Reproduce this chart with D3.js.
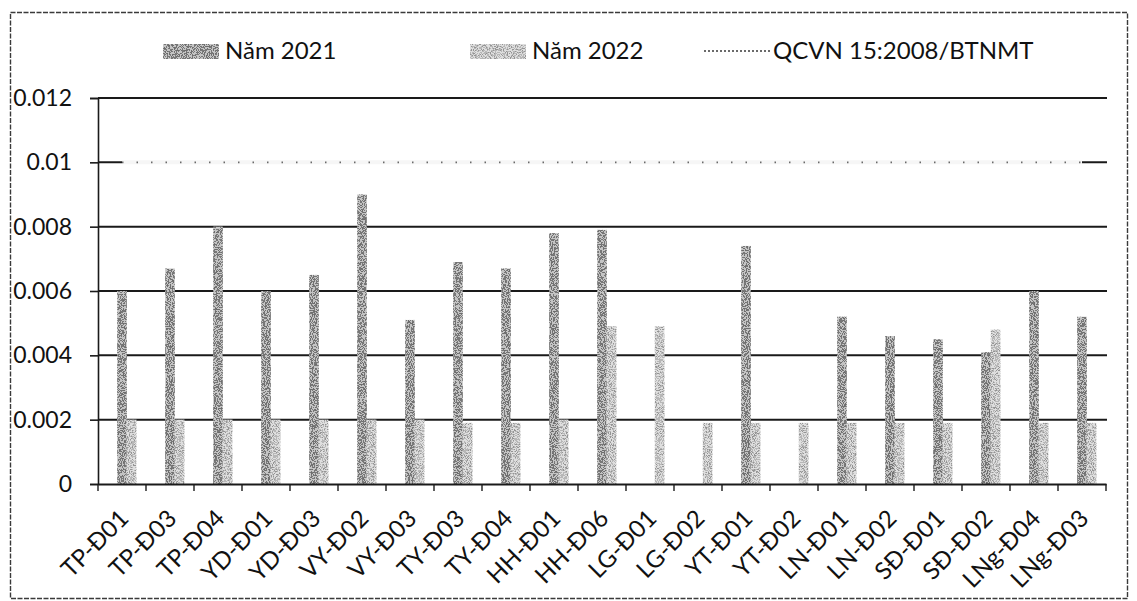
<!DOCTYPE html>
<html>
<head>
<meta charset="utf-8">
<script src="https://cdn.jsdelivr.net/npm/d3@7"></script>
<style>
  html, body { margin: 0; padding: 0; background: #fff; }
  svg { display: block; font-family: Lato, "Open Sans", sans-serif; }
</style>
</head>
<body>
<svg id="chart" width="1137" height="601"></svg>
<script>
// Monitoring stations
const categories = ["TP-Đ01","TP-Đ03","TP-Đ04","YD-Đ01","YD-Đ03","VY-Đ02","VY-Đ03","TY-Đ03","TY-Đ04","HH-Đ01","HH-Đ06","LG-Đ01","LG-Đ02","YT-Đ01","YT-Đ02","LN-Đ01","LN-Đ02","SĐ-Đ01","SĐ-Đ02","LNg-Đ04","LNg-Đ03"];

// Measured concentrations (null = no sample that year)
const values2021 = [0.0060,0.0067,0.0080,0.0060,0.0065,0.0090,0.0051,0.0069,0.0067,0.0078,0.0079,null,null,0.0074,null,0.0052,0.0046,0.0045,0.0041,0.0060,0.0052];
const values2022 = [0.0020,0.0020,0.0020,0.0020,0.0020,0.0020,0.0020,0.0019,0.0019,0.0020,0.0049,0.0049,0.0019,0.0019,0.0019,0.0019,0.0019,0.0019,0.0048,0.0019,0.0019];

// Regulatory limit QCVN 15:2008/BTNMT
const limitValues = [0.01,0.01,0.01,0.01,0.01,0.01,0.01,0.01,0.01,0.01,0.01,0.01,0.01,0.01,0.01,0.01,0.01,0.01,0.01,0.01,0.01];

const seriesNames = ["Năm 2021","Năm 2022"];
const limitName = "QCVN 15:2008/BTNMT";

const yTicks = [0,0.002,0.004,0.006,0.008,0.01,0.012];
const yTickLabels = ["0","0.002","0.004","0.006","0.008","0.01","0.012"];

const svg = d3.select("#chart");
const defs = svg.append("defs");

// Grainy print texture for the bars
function grain(id, ink, density, seed) {
  const f = defs.append("filter").attr("id", id)
    .attr("filterUnits", "userSpaceOnUse")
    .attr("x", 0).attr("y", 0).attr("width", 1137).attr("height", 601);
  f.append("feTurbulence").attr("type", "fractalNoise")
    .attr("baseFrequency", 0.95).attr("numOctaves", 2).attr("seed", seed).attr("result", "n");
  f.append("feColorMatrix").attr("in", "n").attr("type", "matrix")
    .attr("values", `0 0 0 0 ${ink}  0 0 0 0 ${ink}  0 0 0 0 ${ink}  1 0 0 0 0`).attr("result", "a");
  const ct = f.append("feComponentTransfer").attr("in", "a").attr("result", "d");
  ct.append("feFuncA").attr("type", "discrete").attr("tableValues", density);
  f.append("feComposite").attr("in", "d").attr("in2", "SourceAlpha").attr("operator", "in").attr("result", "dots");
  const m = f.append("feMerge");
  m.append("feMergeNode").attr("in", "SourceGraphic");
  m.append("feMergeNode").attr("in", "dots");
}
grain("grain2021", 0.15, "0 0 0 0 0.9 1 1 1", 3);
grain("grain2022", 0.3, "0 0 0 0 0.6 1 1 1", 7);

const fills = ["#c4c4c4", "#dedede"];
const filters = ["url(#grain2021)", "url(#grain2022)"];

// Outer frame
svg.append("rect")
  .attr("x", 10.5).attr("y", 12.5).attr("width", 1117).attr("height", 586)
  .attr("fill", "none").attr("stroke", "#3a3a3a").attr("stroke-width", 1.4)
  .attr("stroke-dasharray", "5,1.5");

const plot = { left: 98, right: 1106, top: 98, bottom: 484 };

const x = d3.scaleBand().domain(categories).range([plot.left, plot.right]);
const xs = d3.scaleBand().domain(seriesNames)
  .range([x.bandwidth() * 0.4, x.bandwidth() * 0.8]);
const y = d3.scaleLinear().domain([0, 0.012]).range([plot.bottom, plot.top]);

// Horizontal gridlines
svg.append("g").selectAll("line").data(yTicks.filter(d => d > 0)).join("line")
  .attr("x1", plot.left).attr("x2", plot.right + 1)
  .attr("y1", d => y(d)).attr("y2", d => y(d))
  .attr("stroke", "#1a1a1a").attr("stroke-width", 2);

// Bars
const seriesData = [values2021, values2022];
seriesData.forEach((vals, si) => {
  svg.append("g").attr("filter", filters[si])
    .selectAll("rect")
    .data(categories.map((c, i) => ({ c, v: vals[i] })).filter(d => d.v != null))
    .join("rect")
    .attr("x", d => x(d.c) + xs(seriesNames[si]))
    .attr("width", xs.bandwidth())
    .attr("y", d => y(d.v))
    .attr("height", d => y(0) - y(d.v))
    .attr("fill", fills[si]);
});

// Limit line
const limitLine = d3.line()
  .x((d, i) => x(categories[i]) + x.bandwidth() / 2)
  .y(d => y(d));
svg.append("path").datum(limitValues).attr("d", limitLine)
  .attr("fill", "none").attr("stroke", "#f6f6f6").attr("stroke-width", 4);
svg.append("path").datum(limitValues).attr("d", limitLine)
  .attr("fill", "none").attr("stroke", "#6a6a6a").attr("stroke-width", 1.6)
  .attr("stroke-dasharray", "1.5,13");

// Y axis
const yAxis = d3.axisLeft(y).tickValues(yTicks)
  .tickFormat((d, i) => yTickLabels[i]).tickSize(8).tickPadding(18);
const gy = svg.append("g").attr("transform", `translate(${plot.left},0)`).call(yAxis);
gy.select(".domain").attr("stroke", "#1a1a1a").attr("stroke-width", 1.6);
gy.selectAll(".tick line").attr("stroke", "#1a1a1a").attr("stroke-width", 1.6);
gy.selectAll(".tick text").attr("font-size", 23).attr("fill", "#111")
  .attr("font-family", "Lato, 'Open Sans', sans-serif");

// X axis
const xAxis = d3.axisBottom(x).tickSize(0).tickFormat("");
const gx = svg.append("g").attr("transform", `translate(0,${plot.bottom})`).call(xAxis);
gx.select(".domain").attr("stroke", "#1a1a1a").attr("stroke-width", 2);
gx.selectAll(".tick").remove();
// tick marks between categories
svg.append("g").selectAll("line")
  .data(categories.concat([null]))
  .join("line")
  .attr("x1", (d, i) => plot.left + i * x.step())
  .attr("x2", (d, i) => plot.left + i * x.step())
  .attr("y1", plot.bottom).attr("y2", plot.bottom + 7)
  .attr("stroke", "#1a1a1a").attr("stroke-width", 1.4);
// rotated labels
svg.append("g").selectAll("text").data(categories).join("text")
  .attr("transform", d => `translate(${x(d) + x.bandwidth() / 2 + 8},${plot.bottom + 36}) rotate(-45)`)
  .attr("text-anchor", "end")
  .attr("font-size", 24).attr("fill", "#111")
  .text(d => d);

// Legend
const legend = svg.append("g");
const legendItems = [
  { name: seriesNames[0], sx: 163, tx: 225, kind: 0 },
  { name: seriesNames[1], sx: 470, tx: 532, kind: 1 },
  { name: limitName, sx: 704, tx: 773, kind: 2 }
];
legendItems.forEach(it => {
  if (it.kind < 2) {
    legend.append("rect").attr("x", it.sx).attr("y", 44).attr("width", 56).attr("height", 15)
      .attr("fill", fills[it.kind]).attr("filter", filters[it.kind]);
  } else {
    legend.append("line").attr("x1", it.sx).attr("x2", it.sx + 66)
      .attr("y1", 51).attr("y2", 51)
      .attr("stroke", "#6a6a6a").attr("stroke-width", 2).attr("stroke-dasharray", "2,2");
  }
  legend.append("text").attr("x", it.tx).attr("y", 59)
    .attr("font-size", 24).attr("fill", "#111").text(it.name);
});
</script>
</body>
</html>
